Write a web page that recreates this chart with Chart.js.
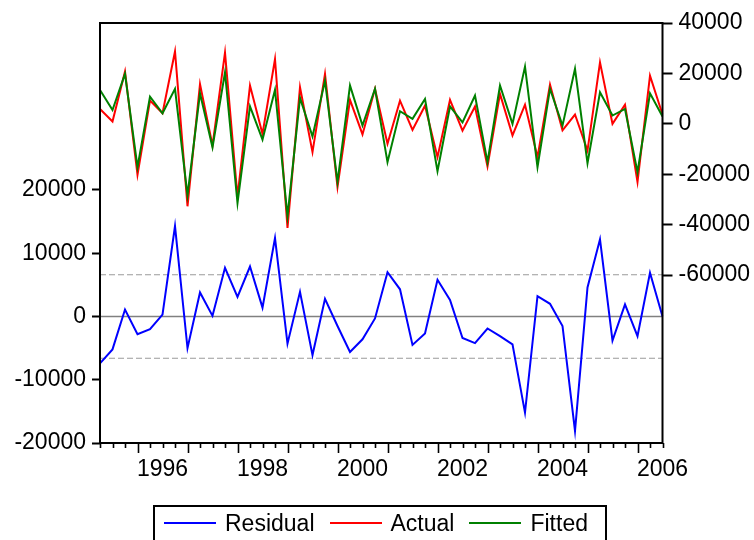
<!DOCTYPE html>
<html>
<head>
<meta charset="utf-8">
<title>Residual / Actual / Fitted</title>
<script src="https://cdn.jsdelivr.net/npm/chart.js@4.4.1/dist/chart.umd.min.js"></script>
<style>
    html, body { margin: 0; padding: 0; background: #fff; overflow: hidden; }
    #wrap { position: relative; width: 754px; height: 540px; overflow: hidden; }
    #legend {
        position: absolute; left: 153px; top: 505px; width: 454px; height: 50px;
        box-sizing: border-box; border: 2px solid #000; padding-left: 9px;
        display: flex; align-items: center; height: 50px; align-items: flex-start;
        font-family: "Liberation Sans", Arial, sans-serif; font-size: 23px; color: #000;
    }
    .item { display: flex; align-items: center; height: 32px; margin-right: 15px; }
    .sw { display: inline-block; width: 52px; height: 2px; margin-right: 9px; }
</style>
</head>
<body>
<div id="wrap">
    <canvas id="chart" width="754" height="540"></canvas>
    <div id="legend"></div>
</div>
<script>
var quarters = [
    '1995Q2', '1995Q3', '1995Q4',
    '1996Q1', '1996Q2', '1996Q3', '1996Q4',
    '1997Q1', '1997Q2', '1997Q3', '1997Q4',
    '1998Q1', '1998Q2', '1998Q3', '1998Q4',
    '1999Q1', '1999Q2', '1999Q3', '1999Q4',
    '2000Q1', '2000Q2', '2000Q3', '2000Q4',
    '2001Q1', '2001Q2', '2001Q3', '2001Q4',
    '2002Q1', '2002Q2', '2002Q3', '2002Q4',
    '2003Q1', '2003Q2', '2003Q3', '2003Q4',
    '2004Q1', '2004Q2', '2004Q3', '2004Q4',
    '2005Q1', '2005Q2', '2005Q3', '2005Q4',
    '2006Q1', '2006Q2', '2006Q3'
];

var residual = [
    -7400, -5200, 1100, -2800, -2000, 300, 14300, -5000, 3800, 100,
    7700, 3100, 7900, 1400, 12400, -4300, 3900, -6100, 2800, -1500,
    -5600, -3600, -300, 7000, 4300, -4500, -2700, 5800, 2600, -3400,
    -4200, -1900, -3100, -4400, -15200, 3200, 2000, -1500, -18100, 4600,
    12200, -3800, 1900, -3100, 6900, 0
];

var actual = [
    5900, 900, 20800, -20200, 9200, 4200, 28700, -32700, 15800, -8600,
    28300, -29000, 15200, -4000, 25700, -41300, 14500, -11200, 19800, -25100,
    9500, -4200, 13900, -7900, 9200, -2400, 7200, -13200, 9500, -2700,
    6900, -16900, 11900, -4600, 7600, -13200, 15600, -2600, 3700, -10600,
    24400, 0, 7600, -23100, 19100, 3700
];

var fitted = [
    13400, 5500, 19800, -17200, 10800, 4200, 13900, -28400, 12100, -9300,
    20400, -31400, 6900, -6300, 13500, -36700, 10300, -5000, 17100, -23100,
    15200, -700, 13900, -15200, 5000, 2000, 9900, -18800, 6900, 600,
    11200, -15200, 15200, 0, 22700, -17200, 13900, -700, 21800, -15600,
    12500, 3300, 5900, -19200, 12100, 2900
];

// left axis (residual) and right axis (actual / fitted)
var leftTicks = [-20000, -10000, 0, 10000, 20000];
var rightTicks = [-60000, -40000, -20000, 0, 20000, 40000];
var residualBand = 6600;

var FONT = '"Liberation Sans", Arial, sans-serif';

var framePlugin = {
    id: 'frame',
    beforeDatasetsDraw: function (chart) {
        var ctx = chart.ctx, a = chart.chartArea, yL = chart.scales.yL;
        ctx.save();
        // zero line
        var y0 = yL.getPixelForValue(0);
        ctx.strokeStyle = '#808080';
        ctx.lineWidth = 1.6;
        ctx.beginPath();
        ctx.moveTo(a.left, y0);
        ctx.lineTo(a.right, y0);
        ctx.stroke();
        // +/- one standard error
        ctx.strokeStyle = '#9a9a9a';
        ctx.lineWidth = 1.2;
        ctx.setLineDash([6, 3]);
        [residualBand, -residualBand].forEach(function (v) {
            var y = yL.getPixelForValue(v);
            ctx.beginPath();
            ctx.moveTo(a.left, y);
            ctx.lineTo(a.right, y);
            ctx.stroke();
        });
        ctx.restore();
    },
    afterDatasetsDraw: function (chart) {
        var ctx = chart.ctx, a = chart.chartArea, x = chart.scales.x;
        ctx.save();
        ctx.strokeStyle = '#000';
        ctx.lineWidth = 2;
        ctx.strokeRect(a.left, a.top, a.right - a.left, a.bottom - a.top);
        ctx.lineWidth = 1.6;
        quarters.forEach(function (q, i) {
            var px = Math.round(x.getPixelForValue(i)) + 0.5;
            var len = q.slice(4) === 'Q1' ? 10 : 5;
            ctx.beginPath();
            ctx.moveTo(px, a.bottom);
            ctx.lineTo(px, a.bottom + len);
            ctx.stroke();
        });
        ctx.restore();
    }
};

var datasets = [
    { label: 'Residual', data: residual, borderColor: '#0000ff', yAxisID: 'yL', order: 2 },
    { label: 'Actual', data: actual, borderColor: '#ff0000', yAxisID: 'yR', order: 1 },
    { label: 'Fitted', data: fitted, borderColor: '#008000', yAxisID: 'yR', order: 0 }
];
datasets.forEach(function (d) {
    d.borderWidth = 2;
    d.pointRadius = 0;
    d.tension = 0;
    d.fill = false;
});

Chart.defaults.font.family = FONT;
Chart.defaults.font.size = 23;
Chart.defaults.color = '#000';

new Chart(document.getElementById('chart'), {
    type: 'line',
    data: { labels: quarters, datasets: datasets },
    plugins: [framePlugin],
    options: {
        responsive: false,
        animation: false,
        layout: { padding: { top: 23, left: 0, right: 0, bottom: 0 } },
        plugins: { legend: { display: false }, tooltip: { enabled: false } },
        scales: {
            x: {
                type: 'category',
                offset: false,
                border: { display: false },
                grid: { drawOnChartArea: false, drawTicks: true, tickLength: 10, tickColor: 'rgba(0,0,0,0)' },
                ticks: {
                    autoSkip: false, maxRotation: 0, minRotation: 0, padding: 3,
                    callback: function (value, index) {
                        var q = quarters[index];
                        var yr = parseInt(q.slice(0, 4), 10);
                        return (q.slice(4) === 'Q3' && yr % 2 === 0) ? String(yr) : '';
                    }
                },
                afterFit: function (s) { s.height = 97; }
            },
            yL: {
                position: 'left',
                min: -20000, max: 46400,
                border: { display: false },
                grid: { drawOnChartArea: false, tickLength: 8, tickColor: '#000', tickWidth: 2 },
                ticks: { padding: 6, callback: function (v) { return String(v); } },
                afterBuildTicks: function (s) { s.ticks = leftTicks.map(function (v) { return { value: v }; }); },
                afterFit: function (s) { s.width = 100; }
            },
            yR: {
                position: 'right',
                min: -126600, max: 40000,
                border: { display: false },
                grid: { drawOnChartArea: false, tickLength: 10, tickColor: '#000', tickWidth: 2 },
                ticks: { padding: 6, callback: function (v) { return String(v); } },
                afterBuildTicks: function (s) { s.ticks = rightTicks.map(function (v) { return { value: v }; }); },
                afterFit: function (s) { s.width = 91.5; }
            }
        }
    }
});

// legend below the chart, from the dataset labels and colours
var legend = document.getElementById('legend');
datasets.forEach(function (d) {
    var item = document.createElement('span');
    item.className = 'item';
    var sw = document.createElement('span');
    sw.className = 'sw';
    sw.style.background = d.borderColor;
    item.appendChild(sw);
    item.appendChild(document.createTextNode(d.label));
    legend.appendChild(item);
});
</script>
</body>
</html>
